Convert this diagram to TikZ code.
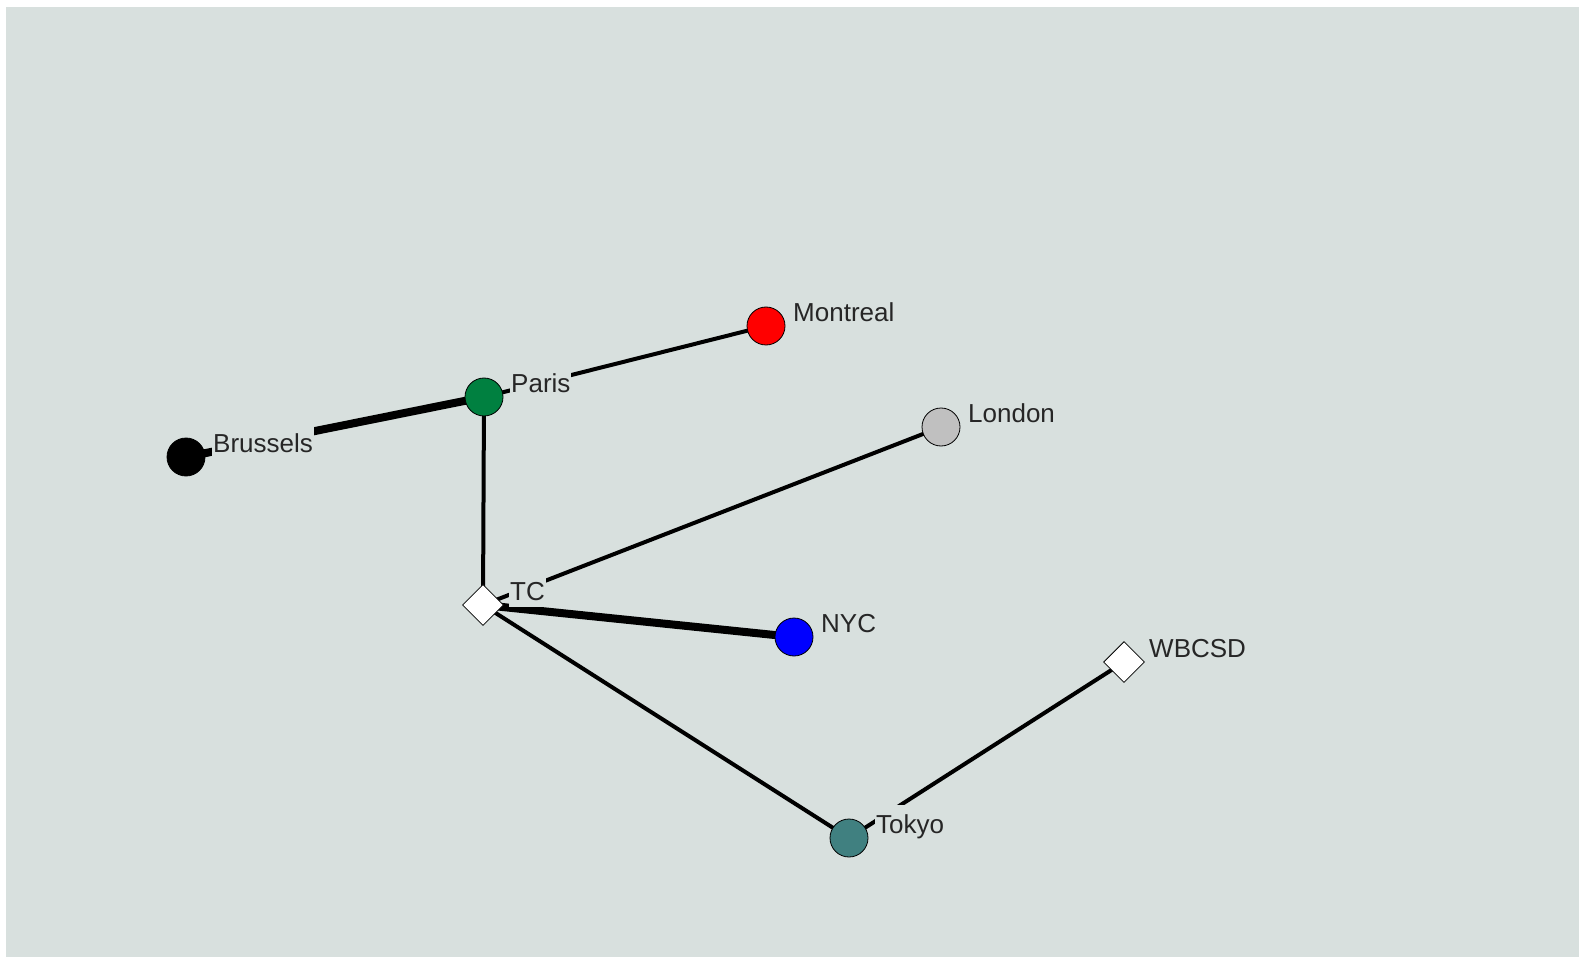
\documentclass[tikz,border=0pt]{standalone}
\usepackage{fontspec}
\setmainfont{Liberation Sans}
\usetikzlibrary{shapes.geometric}
\definecolor{bgc}{RGB}{216,224,222}
\definecolor{parisc}{RGB}{0,128,64}
\definecolor{tokyoc}{RGB}{64,128,128}
\definecolor{londonc}{RGB}{192,192,192}
\begin{document}
\begin{tikzpicture}[x=1pt,y=-1pt,
  actor/.style={circle,draw=black,line width=0.8pt,minimum size=38pt,inner sep=0pt},
  org/.style={diamond,draw=black,fill=white,line width=0.8pt,minimum size=41pt,inner sep=0pt},
  lbl/.style={fill=bgc,inner xsep=1pt,inner ysep=1pt,text height=27pt,text depth=6pt,anchor=base west,font=\fontsize{26}{28}\selectfont,text=black!85},
  tie/.style={draw=black,line width=4pt},
  strong/.style={draw=black,line width=8pt}]
\useasboundingbox (0,0) rectangle (1579,957);
\fill[white] (0,0) rectangle (1579,957);
\fill[bgc] (6,7) rectangle (1579,957);
% node centres
\coordinate (cB) at (186,457);
\coordinate (cP) at (484,397);
\coordinate (cM) at (766,326);
\coordinate (cL) at (941,427);
\coordinate (cT) at (483,605);
\coordinate (cN) at (794,637);
\coordinate (cW) at (1124,662);
\coordinate (cK) at (849,838);
% edges
\draw[strong] (cB) -- (cP);
\draw[tie] (cP) -- (cM);
\draw[tie] (cP) -- (cT);
\draw[tie] (cT) -- (cL);
\draw[strong] (cT) -- (cN);
\draw[tie] (cT) -- (cK);
\draw[tie] (cK) -- (cW);
% labels
\node[lbl] (lB) at ([shift={(26,-5)}]cB) {Brussels};
\node[lbl] (lP) at ([shift={(26,-5)}]cP) {Paris};
\node[lbl] (lM) at ([shift={(26,-4)}]cM) {Montreal};
\node[lbl] (lL) at ([shift={(26,-5)}]cL) {London};
\node[lbl] (lT) at ([shift={(26,-5)}]cT) {TC};
\node[lbl] (lN) at ([shift={(26,-5)}]cN) {NYC};
\node[lbl] (lW) at ([shift={(24,-5)}]cW) {WBCSD};
\node[lbl] (lK) at ([shift={(26,-5)}]cK) {Tokyo};
% node shapes
\node[actor,fill=black] (B) at (cB) {};
\node[actor,fill=parisc] (P) at (cP) {};
\node[actor,fill=red] (M) at (cM) {};
\node[actor,fill=londonc] (L) at (cL) {};
\node[org] (T) at (cT) {};
\node[actor,fill=blue] (N) at (cN) {};
\node[org] (W) at (cW) {};
\node[actor,fill=tokyoc] (K) at (cK) {};
\end{tikzpicture}
\end{document}
